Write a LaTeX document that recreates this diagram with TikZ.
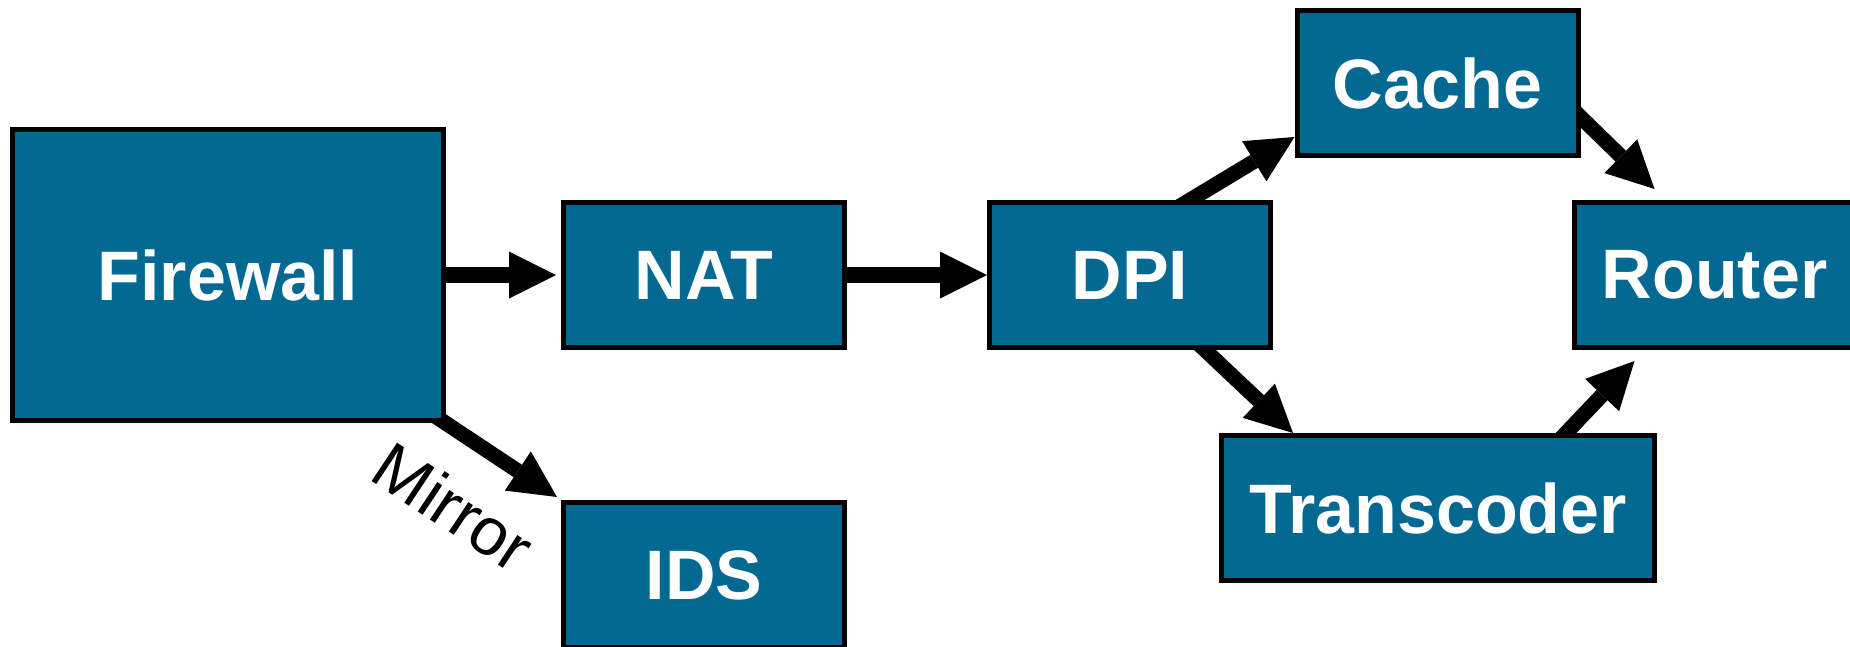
\documentclass[tikz,border=0pt]{standalone}
\usepackage{fontspec}
\setmainfont{Liberation Sans}
\usetikzlibrary{arrows.meta}

\definecolor{boxblue}{RGB}{3,104,146}
\definecolor{bgmid}{RGB}{244,244,244}
\definecolor{bgedge}{RGB}{226,226,226}

% soft grey vignette behind the chain
\pgfdeclareradialshading{bgglow}{\pgfpointorigin}{%
  color(0bp)=(white); color(30bp)=(white); color(40bp)=(bgmid); color(50bp)=(bgedge)}

\pgfdeclarelayer{back}
\pgfdeclarelayer{links}
\pgfsetlayers{back,links,main}

\begin{document}
\begin{tikzpicture}[x=1pt,y=-1pt,
  unit/.style={draw=black, line width=5pt, fill=boxblue, text=white,
    font=\bfseries\fontsize{70}{84}\selectfont, inner sep=0pt,
    minimum width=281pt, minimum height=145pt},
  flow/.style={line width=16pt, shorten <=-12pt,
    -{Triangle[length=47pt,width=47pt,line width=0pt]}},
  slant/.style={flow, line width=15pt}]

\useasboundingbox (0,0) rectangle (1850,646);
\begin{pgfonlayer}{back}
  \begin{scope}
    \clip (0,0) rectangle (1850,646);
    \shade[shading=bgglow] (925,323) circle[radius=980pt];
  \end{scope}
\end{pgfonlayer}

% service chain
\node[unit, minimum width=431pt, minimum height=291pt] (fw) at (228,275) {Firewall};
\node[unit] (nat)    at (704,275)    {NAT};
\node[unit] (dpi)    at (1130,275)   {DPI};
\node[unit] (cache)  at (1437.5,83)  {Cache};
\node[unit] (router) at (1714.5,275) {Router};
\node[unit, minimum width=433pt] (trans) at (1438,508) {Transcoder};
\node[unit] (ids)    at (704,575)    {IDS};

% links between the stages
\begin{pgfonlayer}{links}
  \draw[flow, shorten >=5pt] (fw.east) -- (nat.west);
  \draw[flow] (nat.east) -- (dpi.west);
  \draw[slant] ([xshift=60pt]dpi.north) -- ([yshift=21pt]cache.south west);
  \draw[slant] ([yshift=-34pt]cache.east) -- ([xshift=83pt,yshift=11pt]router.north west);
  \draw[slant] ([xshift=75pt]dpi.south) -- ([xshift=74pt]trans.north west);
  \draw[slant] ([xshift=128pt]trans.north) -- ([xshift=63pt,yshift=-11pt]router.south west);
  \draw[slant] ([xshift=-5pt,yshift=3pt]fw.south east) -- ([xshift=-4pt,yshift=3pt]ids.north west)
    node[pos=0.42, sloped, below=33pt, inner sep=0pt,
         font=\fontsize{67}{80}\selectfont] (mirror) {Mirror};
\end{pgfonlayer}
\end{tikzpicture}
\end{document}
